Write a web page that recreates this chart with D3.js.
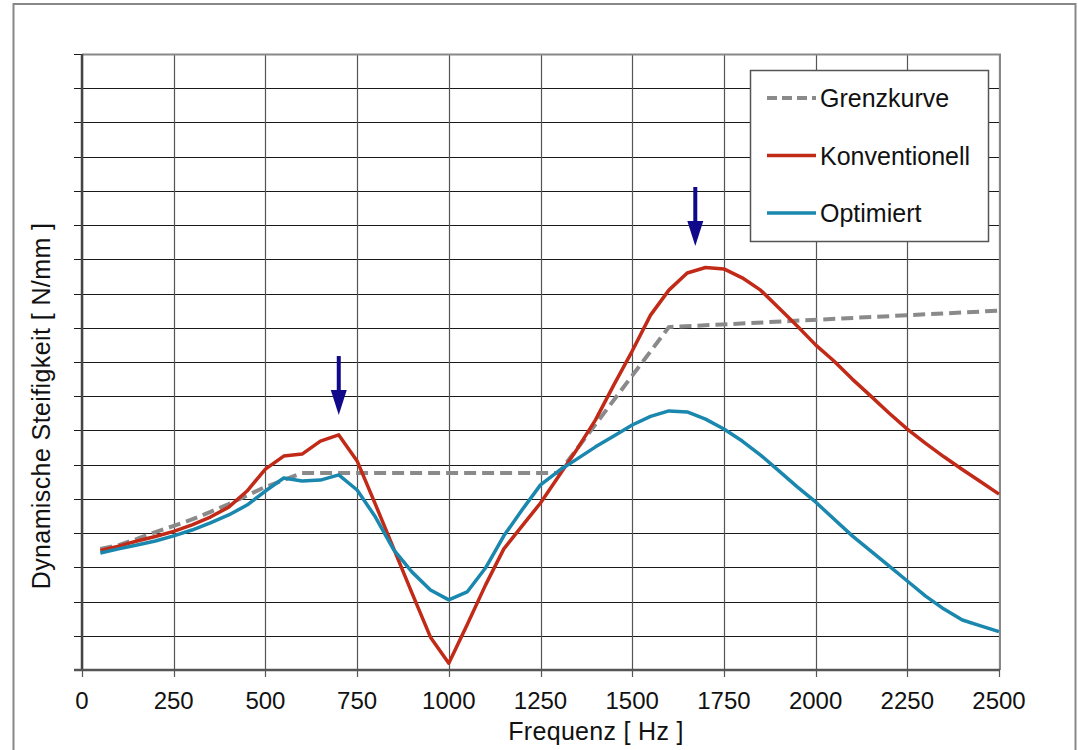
<!DOCTYPE html>
<html>
<head>
<meta charset="utf-8">
<script src="https://cdn.jsdelivr.net/npm/d3@7"></script>
<style>
  body { margin: 0; background: #fff; }
  svg { display: block; font-family: "Liberation Sans", Arial, sans-serif; }
</style>
</head>
<body>
<svg id="chart" width="1078" height="750"></svg>
<script>
// measured frequencies [Hz]
var freq = [50, 100, 150, 200, 250, 300, 350, 400, 450, 500,
            550, 600, 650, 700, 750, 800, 850, 900, 950, 1000,
            1050, 1100, 1150, 1200, 1250, 1300, 1350, 1400, 1450, 1500,
            1550, 1600, 1650, 1700, 1750, 1800, 1850, 1900, 1950, 2000,
            2050, 2100, 2150, 2200, 2250, 2300, 2350, 2400, 2450, 2500];

// dynamic stiffness, conventional design
var konventionell = [3.49, 3.62, 3.77, 3.90, 4.05, 4.24, 4.47, 4.76, 5.23, 5.87,
                     6.25, 6.31, 6.69, 6.87, 6.11, 4.84, 3.54, 2.24, 0.96, 0.20,
                     1.32, 2.48, 3.54, 4.21, 4.88, 5.67, 6.46, 7.31, 8.33, 9.32,
                     10.37, 11.10, 11.60, 11.76, 11.72, 11.46, 11.10, 10.58, 10.05, 9.50,
                     9.03, 8.50, 8.01, 7.51, 7.04, 6.62, 6.23, 5.86, 5.50, 5.14];

// dynamic stiffness, optimised design
var optimiert = [3.42, 3.54, 3.65, 3.77, 3.92, 4.09, 4.30, 4.53, 4.82, 5.23,
                 5.61, 5.52, 5.55, 5.70, 5.26, 4.47, 3.51, 2.86, 2.34, 2.05,
                 2.28, 2.98, 3.92, 4.68, 5.41, 5.82, 6.17, 6.52, 6.84, 7.16,
                 7.41, 7.57, 7.54, 7.33, 7.04, 6.69, 6.28, 5.82, 5.35, 4.91,
                 4.41, 3.92, 3.48, 3.04, 2.60, 2.16, 1.78, 1.46, 1.29, 1.12];

// limit curve
var grenzFreq = [50, 100, 150, 200, 250, 300, 350, 400, 450, 500, 550, 600, 1300, 1600, 2500];
var grenzkurve = [3.54, 3.65, 3.83, 4.03, 4.21, 4.40, 4.62, 4.85, 5.10, 5.35, 5.55, 5.76, 5.76, 10.02, 10.50];

// arrows marking the resonance peaks
var arrowFreq = [700, 1672];
var arrowTip  = [7.45, 12.39];

var xTicks = [0, 250, 500, 750, 1000, 1250, 1500, 1750, 2000, 2250, 2500];
var yTicks = [0, 1, 2, 3, 4, 5, 6, 7, 8, 9, 10, 11, 12, 13, 14, 15, 16, 17, 18];

var legendNames = ["Grenzkurve", "Konventionell", "Optimiert"];
var colors = { grenz: "#8a8a8a", konv: "#c22a18", opt: "#1a87ae", arrow: "#100a8a" };

var svg = d3.select("#chart");
var margin = { left: 82, right: 999, top: 54, bottom: 670 };

var x = d3.scaleLinear().domain([0, 2500]).range([margin.left, margin.right]);
var y = d3.scaleLinear().domain([0, 18]).range([margin.bottom, margin.top]);

// outer frame
svg.append("rect")
   .attr("x", 13.5).attr("y", 4).attr("width", 1062).attr("height", 760)
   .attr("fill", "none").attr("stroke", "#888").attr("stroke-width", 2);

// grid
var grid = svg.append("g");
grid.selectAll("line.h").data(yTicks).enter().append("line")
    .attr("class", "h")
    .attr("x1", margin.left - 8).attr("x2", margin.right)
    .attr("y1", function(d) { return Math.round(y(d)) + 0.5; })
    .attr("y2", function(d) { return Math.round(y(d)) + 0.5; })
    .attr("stroke", "#1a1a1a").attr("stroke-width", 1.2);
grid.selectAll("line.v").data(xTicks).enter().append("line")
    .attr("class", "v")
    .attr("x1", function(d) { return Math.round(x(d)) + 0.5; })
    .attr("x2", function(d) { return Math.round(x(d)) + 0.5; })
    .attr("y1", margin.top).attr("y2", margin.bottom + 7)
    .attr("stroke", "#555").attr("stroke-width", 1.2);

// plot border top / right
svg.append("path")
   .attr("d", "M" + margin.left + "," + (margin.top + 0.5) + "H" + (margin.right + 1) + "V" + margin.bottom)
   .attr("fill", "none").attr("stroke", "#888").attr("stroke-width", 2);

// axes lines
svg.append("line")
   .attr("x1", margin.left).attr("x2", margin.left)
   .attr("y1", margin.top).attr("y2", margin.bottom + 1)
   .attr("stroke", "#444").attr("stroke-width", 2.5);
svg.append("line")
   .attr("x1", margin.left - 8).attr("x2", margin.right + 1)
   .attr("y1", margin.bottom).attr("y2", margin.bottom)
   .attr("stroke", "#555").attr("stroke-width", 2.5);

// x tick labels
svg.append("g").selectAll("text").data(xTicks).enter().append("text")
   .attr("x", function(d) { return x(d); })
   .attr("y", 709)
   .attr("text-anchor", "middle")
   .attr("font-size", 24)
   .attr("fill", "#111")
   .text(function(d) { return d; });

// axis titles
svg.append("text")
   .attr("x", 596).attr("y", 740)
   .attr("text-anchor", "middle")
   .attr("font-size", 25)
   .attr("letter-spacing", 0.3)
   .attr("fill", "#111")
   .text("Frequenz [ Hz ]");
svg.append("text")
   .attr("transform", "translate(50,406) rotate(-90)")
   .attr("text-anchor", "middle")
   .attr("font-size", 25)
   .attr("letter-spacing", 0.4)
   .attr("fill", "#111")
   .text("Dynamische Steifigkeit [ N/mm ]");

// curves
var line = d3.line()
    .x(function(d) { return x(d[0]); })
    .y(function(d) { return y(d[1]); });

svg.append("path")
   .datum(d3.zip(grenzFreq, grenzkurve))
   .attr("d", line)
   .attr("fill", "none")
   .attr("stroke", colors.grenz)
   .attr("stroke-width", 4)
   .attr("stroke-dasharray", "12,6");

svg.append("path")
   .datum(d3.zip(freq, konventionell))
   .attr("d", line)
   .attr("fill", "none")
   .attr("stroke", colors.konv)
   .attr("stroke-width", 3.5)
   .attr("stroke-linejoin", "round");

svg.append("path")
   .datum(d3.zip(freq, optimiert))
   .attr("d", line)
   .attr("fill", "none")
   .attr("stroke", colors.opt)
   .attr("stroke-width", 3.5)
   .attr("stroke-linejoin", "round");

// arrows
var arrows = svg.append("g").selectAll("g")
    .data(d3.zip(arrowFreq, arrowTip))
    .enter().append("g")
    .attr("transform", function(d) { return "translate(" + x(d[0]) + "," + y(d[1]) + ")"; });
arrows.append("rect")
    .attr("x", -2).attr("y", -59).attr("width", 4).attr("height", 36)
    .attr("fill", colors.arrow);
arrows.append("path")
    .attr("d", "M-8,-25 L8,-25 L0,0 Z")
    .attr("fill", colors.arrow);

// legend
var legend = svg.append("g");
legend.append("rect")
    .attr("x", 750.5).attr("y", 70.5).attr("width", 238).attr("height", 171)
    .attr("fill", "#fff").attr("stroke", "#555").attr("stroke-width", 1.5);
var legendColors = [colors.grenz, colors.konv, colors.opt];
var item = legend.selectAll("g").data(legendNames).enter().append("g")
    .attr("transform", function(d, i) { return "translate(0," + (98 + i * 57.5) + ")"; });
item.append("line")
    .attr("x1", 767).attr("x2", 816).attr("y1", 0).attr("y2", 0)
    .attr("stroke", function(d, i) { return legendColors[i]; })
    .attr("stroke-width", function(d, i) { return i === 0 ? 4 : 3.5; })
    .attr("stroke-dasharray", function(d, i) { return i === 0 ? "10,5" : null; });
item.append("text")
    .attr("x", 820).attr("y", 9)
    .attr("font-size", 25)
    .attr("fill", "#111")
    .text(function(d) { return d; });
</script>
</body>
</html>
